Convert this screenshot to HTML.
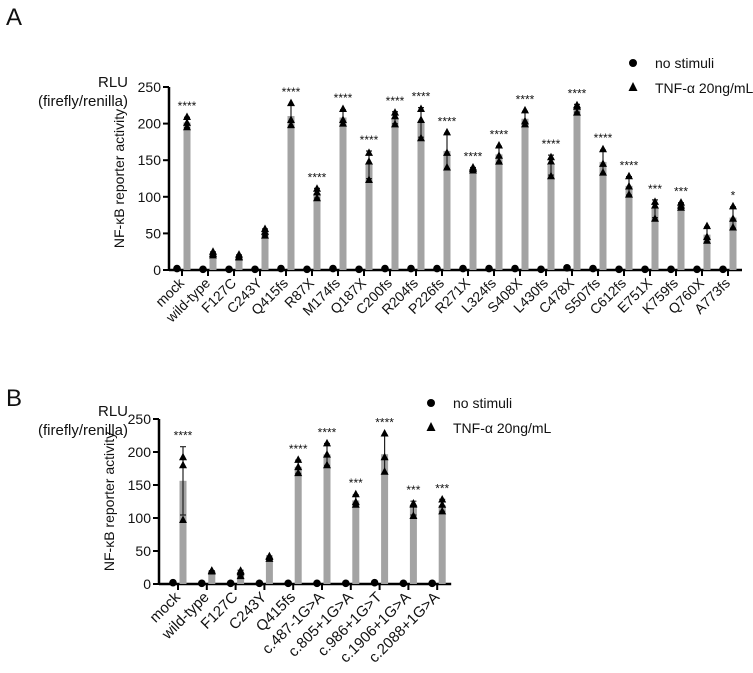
<!DOCTYPE html>
<html><head><meta charset="utf-8"><style>
body{margin:0;background:#fff;font-family:"Liberation Sans",Arial,sans-serif}
svg text{font-family:"Liberation Sans",Arial,sans-serif;fill:#111}
</style></head><body>
<svg id="fig" width="753" height="668" viewBox="0 0 753 668" xmlns="http://www.w3.org/2000/svg"></svg>
<script>
// ---- Panel A data ----
const catsA = ["mock","wild-type","F127C","C243Y","Q415fs","R87X","M174fs","Q187X","C200fs","R204fs","P226fs","R271X","L324fs","S408X","L430fs","C478X","S507fs","C612fs","E751X","K759fs","Q760X","A773fs"];
const tnfA = [[209,201,195],[25,22,20],[21,18,17],[56,52,47],[228,205,198],[111,106,98],[220,205,200],[160,148,123],[215,210,199],[220,205,180],[188,160,140],[140,138,136],[170,156,148],[218,203,199],[154,148,128],[225,223,215],[165,145,133],[128,114,103],[93,88,70],[92,88,85],[60,45,40],[87,70,58]];
const baseA = [2,1,1,1,2,1,2,1,2,2,2,2,2,2,1,3,2,1,1,1,1,1];
const starsA = ["****","","","","****","****","****","****","****","****","****","****","****","****","****","****","****","****","***","***","","*"];
// ---- Panel B data ----
const catsB = ["mock","wild-type","F127C","C243Y","Q415fs","c.487-1G>A","c.805+1G>A","c.986+1G>T","c.1906+1G>A","c.2088+1G>A"];
const tnfB = [[192,180,97],[20,19,20],[20,18,12],[41,42,38],[188,177,168],[213,196,180],[136,124,120],[228,192,170],[122,120,103],[128,120,110]];
const baseB = [2,1,1,1,1,1,1,2,1,1];
const starsB = ["****","","","","****","****","***","****","***","***"];
const yTicks = [0,50,100,150,200,250];

const NS="http://www.w3.org/2000/svg";
const svg=document.getElementById('fig');
function el(tag,attrs,parent){const e=document.createElementNS(NS,tag);for(const k in attrs)e.setAttribute(k,attrs[k]);(parent||svg).appendChild(e);return e;}
function txt(s,attrs,parent){const t=el('text',attrs,parent);t.textContent=s;return t;}
function mean(a){return a.reduce((x,y)=>x+y,0)/a.length;}
function sd(a){const m=mean(a);return Math.sqrt(a.reduce((s,v)=>s+(v-m)*(v-m),0)/(a.length-1));}

function panel(cfg){
  const g=el('g',{});
  
  
  const y=v=>cfg.y0-(v/250)*(cfg.y0-cfg.y250);
  const x=i=>cfg.x0+i*cfg.dx;
  const ax=el('line',{x1:cfg.ax,y1:cfg.y250,x2:cfg.ax,y2:cfg.y0,stroke:'#000','stroke-width':2.5},g);
  
  yTicks.forEach(v=>{
    el('line',{x1:cfg.ax-6,y1:y(v),x2:cfg.ax,y2:y(v),stroke:'#000','stroke-width':2},g);
    const t=txt(String(v),{x:cfg.ax-8,y:y(v)+5,'text-anchor':'end','font-size':14},g);
    
  });
  const xa=el('line',{x1:cfg.ax,y1:cfg.y0,x2:x(cfg.cats.length-1)+14,y2:cfg.y0,stroke:'#000','stroke-width':2.5},g);
  
  cfg.cats.forEach((c,i)=>{
    const xi=x(i);
    el('line',{x1:xi,y1:cfg.y0,x2:xi,y2:cfg.y0+6,stroke:'#000','stroke-width':2},g);
    const m=mean(cfg.tnf[i]),s=sd(cfg.tnf[i]);
    const bar=el('rect',{x:xi+1.5,y:y(m),width:7,height:cfg.y0-y(m),fill:'#a3a3a3'},g);
    
    const eb=el('path',{d:`M${xi+5} ${y(m+s)}V${y(m-s)}M${xi+2} ${y(m+s)}H${xi+8}M${xi+2} ${y(m-s)}H${xi+8}`,stroke:'#222','stroke-width':1.2,fill:'none'},g);
    
    cfg.tnf[i].forEach(v=>{
      const py=y(v);
      const tri=el('path',{d:`M${xi+5} ${py-4.5}L${xi+9} ${py+3}L${xi+1} ${py+3}Z`,fill:'#000'},g);
      
    });
    const d=el('circle',{cx:xi-5,cy:y(cfg.base[i]),r:3.8,fill:'#000'},g);
    
    if(cfg.stars[i]){
      const top=Math.max(Math.max(...cfg.tnf[i]),m+s);
      const st=txt(cfg.stars[i],{x:xi+5,y:y(top)-7,'text-anchor':'middle','font-size':12},g);
      
    }
    const lb=txt(c,{x:xi+3,y:cfg.y0+14,'text-anchor':'end','font-size':cfg.lfs,transform:`rotate(-45 ${xi+3} ${cfg.y0+14})`},g);
    
  });
  const yt=txt('NF-κB reporter activity',{x:0,y:0,'text-anchor':'middle','font-size':14,transform:`translate(${cfg.ytx},${(cfg.y0+cfg.y250)/2}) rotate(-90)`},g);
  
  const r1=txt('RLU',{x:cfg.rluX,y:cfg.rluY,'text-anchor':'end','font-size':15},g);
  
  const r2=txt('(firefly/renilla)',{x:cfg.rluX,y:cfg.rluY+19,'text-anchor':'end','font-size':15},g);
  
  const pl=txt(cfg.letter,{x:6,y:cfg.letterY,'font-size':24},g);
  
  const lg=el('g',{},g);
  
  el('circle',{cx:cfg.lx,cy:cfg.ly,r:4,fill:'#000'},lg);
  const l1=txt('no stimuli',{x:cfg.lx+22,y:cfg.ly+5,'font-size':14},lg);
  
  el('path',{d:`M${cfg.lx} ${cfg.ly+19}L${cfg.lx+4.5} ${cfg.ly+28}L${cfg.lx-4.5} ${cfg.ly+28}Z`,fill:'#000'},lg);
  const l2=txt('TNF-α 20ng/mL',{x:cfg.lx+22,y:cfg.ly+30,'font-size':14},lg);
  
}
panel({name:'panel-a-chart',cats:catsA,tnf:tnfA,base:baseA,stars:starsA,ax:169,x0:182,dx:26,y0:270,y250:87,ytx:124,rluX:128,rluY:87,letter:'A',letterY:25,lx:633,ly:63,lfs:14});
panel({name:'panel-b-chart',cats:catsB,tnf:tnfB,base:baseB,stars:starsB,ax:159,x0:178,dx:28.8,y0:584,y250:419,ytx:114,rluX:128,rluY:416,letter:'B',letterY:406,lx:431,ly:403,lfs:15});
</script>
</body></html>
